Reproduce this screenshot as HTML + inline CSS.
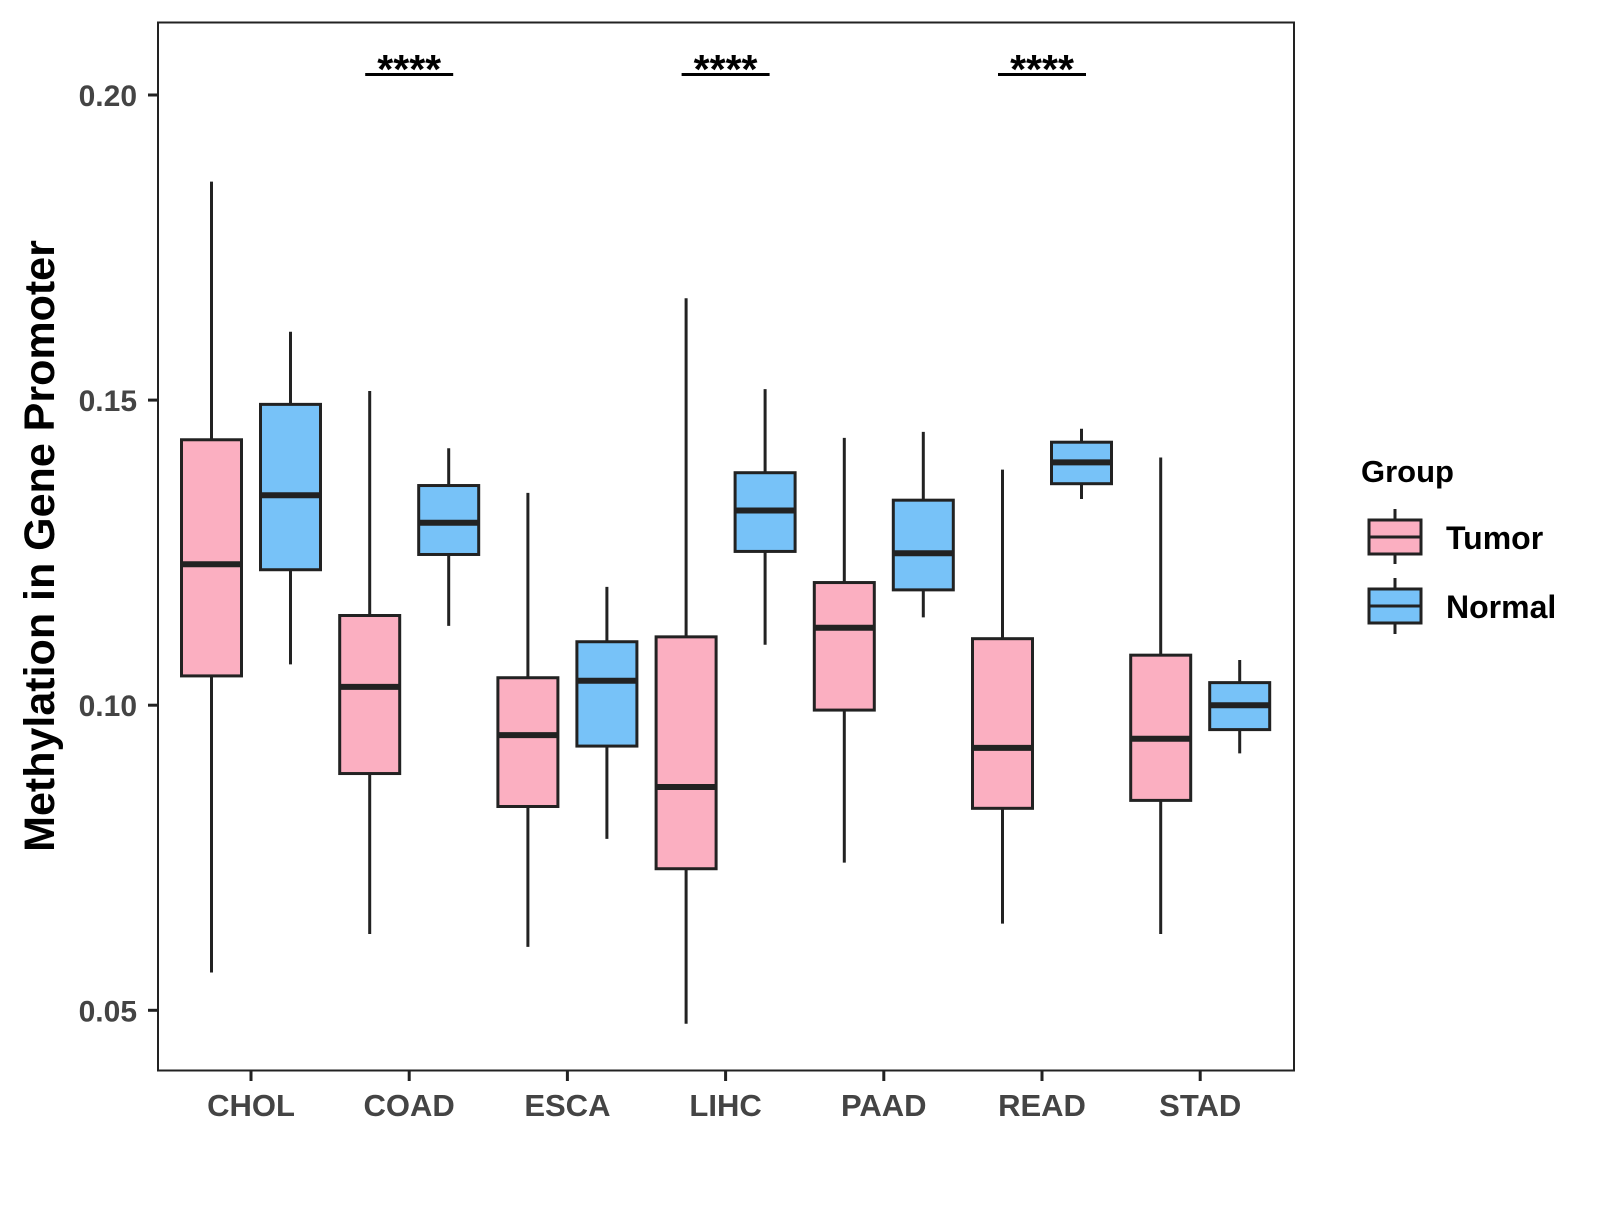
<!DOCTYPE html>
<html><head><meta charset="utf-8"><style>
html,body{margin:0;padding:0;background:#fff;}
svg text{font-family:"Liberation Sans",Arial,sans-serif;font-weight:bold;}
</style></head><body>
<svg id="chart" width="1600" height="1200" viewBox="0 0 1600 1200">
<rect x="158" y="22.5" width="1136" height="1048" fill="#fff" stroke="#222" stroke-width="2"/>
<g id="ticks"></g>
<g id="boxes"></g>
<g id="sig"></g>
<text x="54" y="546" transform="rotate(-90 54 546)" text-anchor="middle" font-size="43" fill="#000">Methylation in Gene Promoter</text>
<g>
<text x="1361" y="482" font-size="31" fill="#000">Group</text>
<g>
<line x1="1395" y1="509" x2="1395" y2="564" stroke="#222" stroke-width="3"/>
<rect x="1369" y="520" width="52" height="34" fill="#FBAFC1" stroke="#222" stroke-width="3"/>
<line x1="1369" y1="537" x2="1421" y2="537" stroke="#222" stroke-width="3"/>
<text x="1446" y="549" font-size="32" fill="#000">Tumor</text>
</g>
<g>
<line x1="1395" y1="578" x2="1395" y2="634" stroke="#222" stroke-width="3"/>
<rect x="1369" y="589" width="52" height="34" fill="#77C2F8" stroke="#222" stroke-width="3"/>
<line x1="1369" y1="606" x2="1421" y2="606" stroke="#222" stroke-width="3"/>
<text x="1446" y="618" font-size="32" fill="#000">Normal</text>
</g>
</g>
</svg>
<script>
const categories = ["CHOL","COAD","ESCA","LIHC","PAAD","READ","STAD"];
const groups = ["Tumor","Normal"];
// [low, q1, median, q3, high]
const tumorStats = [
 [0.0562,0.1048,0.1231,0.1435,0.1858],
 [0.0625,0.0888,0.1030,0.1147,0.1515],
 [0.0604,0.0834,0.0951,0.1045,0.1348],
 [0.0478,0.0732,0.0866,0.1112,0.1667],
 [0.0742,0.0992,0.1127,0.1201,0.1438],
 [0.0642,0.0831,0.0930,0.1109,0.1386],
 [0.0625,0.0844,0.0945,0.1082,0.1406]
];
const normalStats = [
 [0.1067,0.1222,0.1344,0.1493,0.1612],
 [0.1130,0.1247,0.1299,0.1360,0.1421],
 [0.0781,0.0933,0.1040,0.1104,0.1194],
 [0.1099,0.1252,0.1319,0.1381,0.1518],
 [0.1144,0.1189,0.1249,0.1336,0.1448],
 [0.1338,0.1363,0.1398,0.1431,0.1453],
 [0.0921,0.0960,0.1000,0.1037,0.1074]
];
const yTicks = [0.05,0.10,0.15,0.20];
const yTickLabels = ["0.05","0.10","0.15","0.20"];
const sigCategories = ["COAD","LIHC","READ"];
const sigLabels = ["****","****","****"];

const NS="http://www.w3.org/2000/svg";
function y(v){return 95 + (0.20 - v)/0.05*305.1;}
function x(i){return 251 + i*158.2;}
function mk(tag,attrs,parent){const e=document.createElementNS(NS,tag);for(const k in attrs)e.setAttribute(k,attrs[k]);parent.appendChild(e);return e;}

const tg=document.getElementById('ticks');
yTicks.forEach((t,i)=>{
 const l=mk('line',{x1:148,x2:158,y1:y(t),y2:y(t),stroke:'#222','stroke-width':3},tg);
 
 
 const tx=mk('text',{x:137,y:y(t)+11,'text-anchor':'end','font-size':30,fill:'#444'},tg);
 tx.textContent=yTickLabels[i];
 
 
});
categories.forEach((c,i)=>{
 const l=mk('line',{x1:x(i),x2:x(i),y1:1071,y2:1081,stroke:'#222','stroke-width':3},tg);
 
 
 const tx=mk('text',{x:x(i),y:1116,'text-anchor':'middle','font-size':31,fill:'#444'},tg);
 tx.textContent=c;
 
 
});

const bg=document.getElementById('boxes');
const off=39.5, hw=30;
function drawBox(cx,s,fill,name){
 const g=mk('g',{},bg);
 
 
 mk('line',{x1:cx,x2:cx,y1:y(s[4]),y2:y(s[0]),stroke:'#222','stroke-width':3},g);
 mk('rect',{x:cx-hw,y:y(s[3]),width:2*hw,height:y(s[1])-y(s[3]),fill:fill,stroke:'#222','stroke-width':3},g);
 mk('line',{x1:cx-hw,x2:cx+hw,y1:y(s[2]),y2:y(s[2]),stroke:'#222','stroke-width':6},g);
}
categories.forEach((c,i)=>{
 drawBox(x(i)-off,tumorStats[i],'#FBAFC1','box-'+c.toLowerCase()+'-tumor');
 drawBox(x(i)+off,normalStats[i],'#77C2F8','box-'+c.toLowerCase()+'-normal');
});

const sg=document.getElementById('sig');
sigCategories.forEach((c,k)=>{
 const i=categories.indexOf(c);
 const l=mk('line',{x1:x(i)-44,x2:x(i)+44,y1:74.5,y2:74.5,stroke:'#000','stroke-width':3},sg);
 
 
 const t=mk('text',{x:x(i),y:83,'text-anchor':'middle','font-size':41,fill:'#000'},sg);
 t.textContent=sigLabels[k];
 
 
});
</script>
</body></html>
